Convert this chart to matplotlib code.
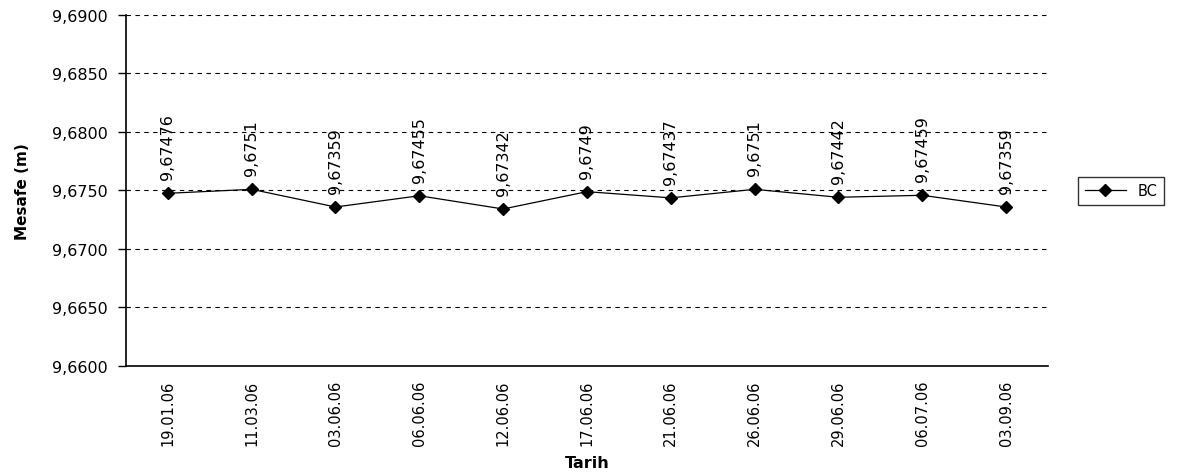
import matplotlib
matplotlib.use("Agg")
import matplotlib.pyplot as plt

# data
dates = ["19.01.06", "11.03.06", "03.06.06", "06.06.06", "12.06.06", "17.06.06",
         "21.06.06", "26.06.06", "29.06.06", "06.07.06", "03.09.06"]
bc = [9.67476, 9.6751, 9.67359, 9.67455, 9.67342, 9.6749,
      9.67437, 9.6751, 9.67442, 9.67459, 9.67359]
yticks = [9.66, 9.665, 9.67, 9.675, 9.68, 9.685, 9.69]


def comma(v, digits):
    return f"{v:.{digits}f}".replace(".", ",")


plt.rcParams['font.family'] = ['DejaVu Sans']

fig = plt.figure(figsize=(11.86, 4.77), dpi=100)
ax = fig.add_axes([0.1062, 0.2306, 0.7774, 0.7359])

x = list(range(len(dates)))
ax.plot(x, bc, color="black", linewidth=0.9, marker="D", markersize=6.5,
        label="BC", zorder=3)

# rotated value labels above each point
for xi, v in zip(x, bc):
    label = f"{v:.5f}".rstrip("0").replace(".", ",")
    ax.annotate(label, (xi, v), xytext=(0, 10), textcoords="offset points",
                rotation=90, ha="center", va="bottom", fontsize=11.5)

ax.set_xlim(-0.5, len(dates) - 0.5)
ax.set_ylim(9.66, 9.69)
ax.set_yticks(yticks)
ax.set_yticklabels([comma(v, 4) for v in yticks], fontsize=11.5)
ax.set_xticks(x)
ax.set_xticklabels(dates, rotation=90, fontsize=10.5)
ax.tick_params(axis="x", length=0, pad=10)
ax.tick_params(axis="y", length=6, width=1, direction="out", pad=7)

ax.yaxis.grid(True, linestyle=(0, (4, 4)), color="black", linewidth=0.8)
ax.set_axisbelow(True)
for s in ["top", "right"]:
    ax.spines[s].set_visible(False)
for s in ["left", "bottom"]:
    ax.spines[s].set_linewidth(1.2)

ax.set_xlabel("Tarih", fontsize=11.5, fontweight="bold", labelpad=7)
ax.set_ylabel("Mesafe (m)", fontsize=11, fontweight="bold", labelpad=16)

leg = fig.legend(loc="center left", bbox_to_anchor=(0.903, 0.598), frameon=True,
                 fancybox=False, edgecolor="black", fontsize=10.5,
                 handlelength=2.8, borderpad=0.45)
leg.get_frame().set_linewidth(1.0)

fig.savefig("out.png", dpi=100)
